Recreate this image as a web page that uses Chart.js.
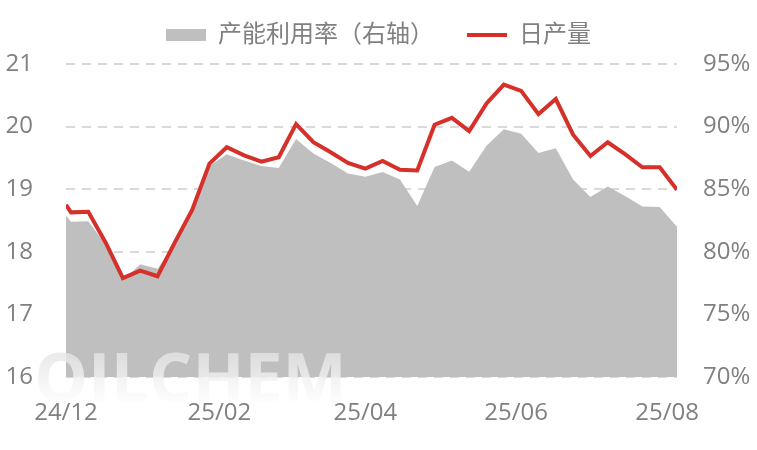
<!DOCTYPE html>
<html>
<head>
<meta charset="utf-8">
<title>日产量与产能利用率</title>
<script src="https://cdn.jsdelivr.net/npm/chart.js@4.4.1/dist/chart.umd.min.js"></script>
<style>
    html, body { margin: 0; padding: 0; background: #ffffff; }
    #wrap { width: 757px; height: 450px; }
</style>
</head>
<body>
<div id="wrap"><canvas id="chart" width="757" height="450"></canvas></div>
<script>
// --- DATA ---
const dates = [
    '2024-12-01', '2024-12-03', '2024-12-10', '2024-12-17', '2024-12-24', '2024-12-31',
    '2025-01-07', '2025-01-14', '2025-01-21', '2025-01-28',
    '2025-02-04', '2025-02-11', '2025-02-18', '2025-02-25',
    '2025-03-04', '2025-03-11', '2025-03-18', '2025-03-25',
    '2025-04-01', '2025-04-08', '2025-04-15', '2025-04-22', '2025-04-29',
    '2025-05-06', '2025-05-13', '2025-05-20', '2025-05-27',
    '2025-06-03', '2025-06-10', '2025-06-17', '2025-06-24',
    '2025-07-01', '2025-07-08', '2025-07-15', '2025-07-22', '2025-07-29',
    '2025-08-05'
];

// 日产量 (left axis)
const dailyOutput = [
    18.75, 18.63, 18.64, 18.15, 17.58, 17.70, 17.61, 18.15, 18.67, 19.41,
    19.67, 19.54, 19.44, 19.51, 20.04, 19.75, 19.59, 19.42, 19.33, 19.45,
    19.31, 19.30, 20.03, 20.14, 19.93, 20.37, 20.67, 20.57, 20.20, 20.44,
    19.87, 19.53, 19.75, 19.56, 19.35, 19.35, 18.99
];

// 产能利用率 % (right axis)
const utilization = [
    82.9, 82.4, 82.45, 80.6, 77.7, 79.0, 78.65, 80.7, 83.2, 86.85,
    87.8, 87.3, 86.85, 86.7, 89.0, 87.85, 87.1, 86.25, 86.0, 86.37,
    85.78, 83.65, 86.78, 87.3, 86.4, 88.47, 89.79, 89.42, 87.9, 88.28,
    85.78, 84.37, 85.22, 84.45, 83.62, 83.57, 82.0
];

const tickDates = ['2024-12-01', '2025-02-01', '2025-04-01', '2025-06-01', '2025-08-01'];
const tickLabels = ['24/12', '25/02', '25/04', '25/06', '25/08'];

const leftTicks = [16, 17, 18, 19, 20, 21];
const rightTicks = [70, 75, 80, 85, 90, 95];

// --- HELPERS ---
const startDate = dates[0];
function dayOf(s) {
    const a = s.split('-').map(Number), b = startDate.split('-').map(Number);
    return (Date.UTC(a[0], a[1] - 1, a[2]) - Date.UTC(b[0], b[1] - 1, b[2])) / 86400000;
}

const outputPoints = dates.map((d, i) => ({ x: dayOf(d), y: dailyOutput[i] }));
const utilPoints = dates.map((d, i) => ({ x: dayOf(d), y: utilization[i] }));

const textColor = '#808080';
const tickFont = { family: '"Open Sans", "Noto Sans CJK SC", sans-serif', size: 24 };

// watermark over the area
const watermark = {
    id: 'watermark',
    afterDatasetsDraw(chart) {
        const ctx = chart.ctx;
        ctx.save();
        const g = ctx.createLinearGradient(0, 348, 0, 406);
        g.addColorStop(0, 'rgba(226,226,226,0.8)');
        g.addColorStop(1, 'rgba(255,255,255,0.85)');
        ctx.fillStyle = g;
        ctx.font = 'bold 68px "Open Sans", sans-serif';
        ctx.textBaseline = 'alphabetic';
        ctx.fillText('OILCHEM', 34, 402);
        ctx.restore();
    }
};

// nudge legend up a little
const legendShift = {
    id: 'legendShift',
    afterLayout(chart) {
        chart.legend.top -= 7;
        chart.legend.bottom -= 7;
    }
};

// --- CHART ---
new Chart(document.getElementById('chart'), {
    type: 'line',
    data: {
        datasets: [
            {
                label: '产能利用率（右轴）',
                data: utilPoints,
                yAxisID: 'y1',
                backgroundColor: '#bfbfbf',
                borderColor: '#bfbfbf',
                borderWidth: 0,
                pointRadius: 0,
                fill: 'start',
                tension: 0,
                order: 2,
                pointStyle: 'rect'
            },
            {
                label: '日产量',
                data: outputPoints,
                yAxisID: 'y',
                borderColor: '#d5302a',
                backgroundColor: '#d5302a',
                borderWidth: 4,
                pointRadius: 0,
                fill: false,
                tension: 0,
                order: 1,
                pointStyle: 'line'
            }
        ]
    },
    options: {
        responsive: false,
        animation: false,
        layout: { padding: { top: -3, left: 0, right: 0, bottom: 0 } },
        plugins: {
            tooltip: { enabled: false },
            legend: {
                position: 'top',
                labels: {
                    color: textColor,
                    font: { family: '"Open Sans", "Noto Sans CJK SC", sans-serif', size: 24 },
                    usePointStyle: true,
                    pointStyleWidth: 40,
                    boxHeight: 12,
                    padding: 33,
                    sort: (a, b) => a.datasetIndex - b.datasetIndex,
                    generateLabels(chart) {
                        return chart.data.datasets.map((ds, i) => ({
                            text: ds.label,
                            datasetIndex: i,
                            fillStyle: ds.backgroundColor,
                            strokeStyle: ds.borderColor,
                            lineWidth: i === 0 ? 0 : 4,
                            pointStyle: ds.pointStyle,
                            fontColor: textColor,
                            hidden: false
                        }));
                    }
                }
            }
        },
        scales: {
            x: {
                type: 'linear',
                min: dayOf(startDate),
                max: dayOf(dates[dates.length - 1]),
                grid: { display: false },
                border: { display: false },
                afterBuildTicks(scale) {
                    scale.ticks = tickDates.map(d => ({ value: dayOf(d) }));
                },
                afterFit(scale) { scale.height = 73; },
                ticks: {
                    color: textColor,
                    font: tickFont,
                    padding: 14,
                    maxRotation: 0,
                    autoSkip: false,
                    callback: (v) => tickLabels[tickDates.map(dayOf).indexOf(v)]
                }
            },
            y: {
                position: 'left',
                min: leftTicks[0],
                max: leftTicks[leftTicks.length - 1],
                afterBuildTicks(scale) {
                    scale.ticks = leftTicks.map(v => ({ value: v }));
                },
                afterFit(scale) { scale.width = 66; },
                grid: { color: '#d9d9d9', lineWidth: 2, drawTicks: false },
                border: { display: false, dash: [9, 7] },
                ticks: { color: textColor, font: tickFont, padding: 33 }
            },
            y1: {
                position: 'right',
                min: rightTicks[0],
                max: rightTicks[rightTicks.length - 1],
                afterBuildTicks(scale) {
                    scale.ticks = rightTicks.map(v => ({ value: v }));
                },
                afterFit(scale) { scale.width = 80; },
                grid: { display: false, drawTicks: false },
                border: { display: false },
                ticks: { color: textColor, font: tickFont, padding: 26, callback: (v) => v + '%' }
            }
        }
    },
    plugins: [watermark, legendShift]
});
</script>
</body>
</html>
